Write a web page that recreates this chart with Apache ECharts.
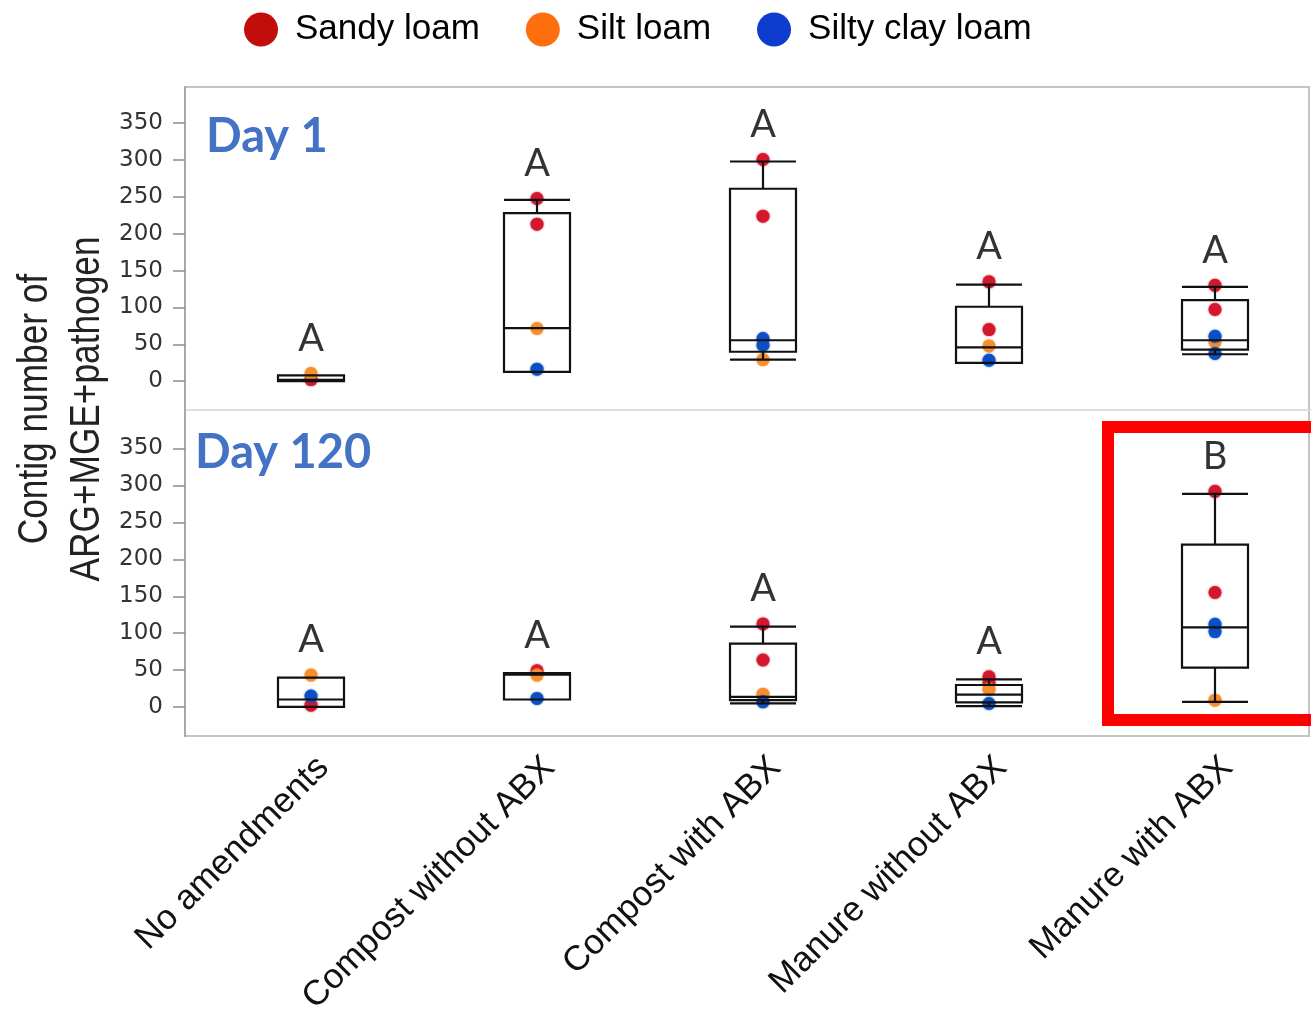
<!DOCTYPE html>
<html>
<head>
<meta charset="utf-8">
<script src="https://cdn.jsdelivr.net/npm/echarts@6/dist/echarts.min.js"></script>
<style>
  html, body { margin: 0; padding: 0; background: #fff; }
  #chart { width: 1311px; height: 1015px; }
</style>
</head>
<body>
<div id="chart"></div>
<script>
// Treatments along the x axis
const categories = ['No amendments', 'Compost without ABX', 'Compost with ABX', 'Manure without ABX', 'Manure with ABX'];
const yTicks = [0, 50, 100, 150, 200, 250, 300, 350];

// Box statistics per treatment: [min, Q1, median, Q3, max]
const boxDay1 = [
  [0, 0, 2, 8, 8],
  [12.6, 12.6, 72, 228, 246],
  [29.4, 40, 55.6, 261, 298],
  [25, 25, 46, 101, 131],
  [36.6, 43, 55.6, 110, 128]
];
const boxDay120 = [
  [0.4, 0.4, 10.4, 40, 40],
  [10.4, 10.4, 44, 46, 46],
  [5, 9.5, 14, 86, 109],
  [1.3, 6.4, 17, 30, 37.6],
  [7.2, 53.4, 108, 220, 288.6]
];

// Individual samples: [treatment index, contig count]
const sandyDay1 = [[0, 2.3], [1, 247.8], [1, 213], [2, 300.7], [2, 223.8], [3, 134.8], [3, 70.1], [4, 130], [4, 97.3]];
const siltDay1 = [[0, 10.4], [1, 71.5], [2, 29.4], [3, 47.9], [4, 53.3]];
const siltyClayDay1 = [[1, 16.3], [2, 57.9], [2, 48.8], [3, 28.5], [4, 61], [4, 37.6]];

const sandyDay120 = [[0, 2.7], [1, 49.3], [2, 112.6], [2, 63.8], [3, 41], [3, 33], [4, 292], [4, 155.1]];
const siltDay120 = [[0, 43.4], [1, 43.4], [2, 17.6], [3, 24], [4, 9.5]];
const siltyClayDay120 = [[0, 15], [1, 11.8], [2, 7.2], [3, 5], [4, 112.2], [4, 102.2]];

// Significance groups
const lettersDay1 = ['A', 'A', 'A', 'A', 'A'];
const lettersDay120 = ['A', 'A', 'A', 'A', 'B'];

const soils = ['Sandy loam', 'Silt loam', 'Silty clay loam'];
const dotColors = ['#d3172d', '#f78d2c', '#0b4fc6'];
const legendColors = ['#c00000', '#ff6600', '#0033cc'];

const sans = "'Liberation Sans', Arial, sans-serif";

// Letter anchors sit at the top of each group (highest whisker or sample)
function letterAnchors(boxes, pointSets, letters) {
  return letters.map((l, i) => {
    let top = boxes[i][4];
    pointSets.forEach(ps => ps.forEach(p => { if (p[0] === i && p[1] > top) top = p[1]; }));
    return { value: [i, top], label: { formatter: l } };
  });
}

function yAxisFor(grid, max) {
  return {
    gridIndex: grid, type: 'value', min: -39, max: max, offset: 13,
    splitLine: { show: false },
    axisLine: { show: true, lineStyle: { color: '#a8a8a8', width: 2 } },
    axisTick: { show: true, length: 12, customValues: yTicks, lineStyle: { color: '#8c8c8c', width: 1.5 } },
    axisLabel: { customValues: yTicks, margin: 22, fontSize: 23, color: '#333', fontFamily: 'DejaVu Sans' }
  };
}

function panelSeries(idx, boxes, sets, letters) {
  const out = [{
    type: 'boxplot', xAxisIndex: idx, yAxisIndex: idx, data: boxes,
    boxWidth: [66, 66], z: 3, silent: true,
    itemStyle: { color: 'rgba(0,0,0,0)', borderColor: '#111', borderWidth: 2.2 }
  }];
  sets.forEach((s, k) => out.push({
    type: 'scatter', name: soils[k], xAxisIndex: idx, yAxisIndex: idx, data: s,
    symbolSize: 13, z: 2, silent: true,
    itemStyle: { color: dotColors[k], opacity: 0.95, shadowBlur: 2, shadowColor: dotColors[k] }
  }));
  out.push({
    type: 'scatter', xAxisIndex: idx, yAxisIndex: idx, symbolSize: 0, silent: true, z: 4,
    data: letterAnchors(boxes, sets, letters),
    label: { show: true, position: 'top', distance: 16, fontSize: 38, color: '#000', fontFamily: 'Lato, sans-serif' }
  });
  return out;
}

const chart = echarts.init(document.getElementById('chart'));
chart.setOption({
  animation: false,
  backgroundColor: '#fff',
  legend: {
    left: 239, top: 7, icon: 'circle', itemWidth: 34, itemHeight: 34, itemGap: 46,
    selectedMode: false,
    data: soils.map((n, k) => ({ name: n, itemStyle: { color: legendColors[k] } })),
    textStyle: { fontSize: 35, color: '#000', fontFamily: sans, padding: [0, 0, 0, 12] }
  },
  grid: [
    { left: 198, top: 87, width: 1130, height: 323, outerBoundsMode: 'none', containLabel: false },
    { left: 198, top: 410, width: 1130, height: 326, outerBoundsMode: 'none', containLabel: false }
  ],
  xAxis: [
    { gridIndex: 0, type: 'category', data: categories, show: false },
    {
      gridIndex: 1, type: 'category', data: categories,
      axisLine: { show: false }, axisTick: { show: false },
      axisLabel: { interval: 0, rotate: 45, margin: 14, verticalAlign: 'top',
        fontSize: 35, color: '#111', fontFamily: sans }
    }
  ],
  yAxis: [yAxisFor(0, 399), yAxisFor(1, 402)],
  series: [
    ...panelSeries(0, boxDay1, [sandyDay1, siltDay1, siltyClayDay1], lettersDay1),
    ...panelSeries(1, boxDay120, [sandyDay120, siltDay120, siltyClayDay120], lettersDay120)
  ],
  graphic: [
    { type: 'rect', silent: true, z: 0, shape: { x: 185, y: 87, width: 1124, height: 649 },
      style: { fill: 'none', stroke: '#c4c4c4', lineWidth: 2 } },
    { type: 'line', silent: true, z: 0, shape: { x1: 185, y1: 410, x2: 1311, y2: 410 },
      style: { stroke: '#dedede', lineWidth: 2 } },
    { type: 'text', silent: true, left: 206, top: 113,
      style: { text: 'Day 1', fontSize: 47, fontWeight: 'bold', fill: '#4472c4', fontFamily: 'Lato, sans-serif' } },
    { type: 'text', silent: true, left: 195, top: 429,
      style: { text: 'Day 120', fontSize: 47, fontWeight: 'bold', fill: '#4472c4', fontFamily: 'Lato, sans-serif' } },
    { type: 'text', silent: true, x: 61, y: 409, rotation: Math.PI / 2, scaleX: 0.82,
      style: { text: 'Contig number of\nARG+MGE+pathogen', fontSize: 43, lineHeight: 52, fill: '#222',
        fontFamily: sans, align: 'center', verticalAlign: 'middle' } },
    { type: 'rect', silent: true, z: 10, shape: { x: 1108, y: 427, width: 260, height: 293 },
      style: { fill: 'none', stroke: '#ff0000', lineWidth: 12 } }
  ]
});
</script>
</body>
</html>
